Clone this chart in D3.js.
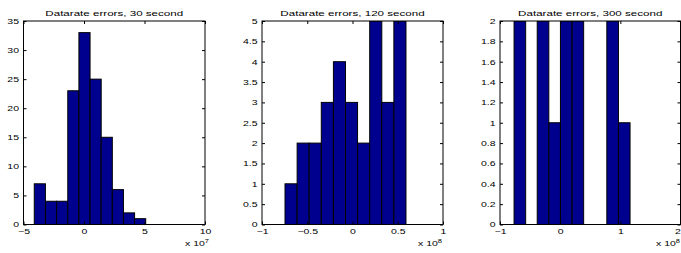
<!DOCTYPE html>
<html><head><meta charset="utf-8">
<script src="https://cdn.jsdelivr.net/npm/d3@7"></script>
<style>body{margin:0;background:#fff} svg{display:block;font-family:"Liberation Sans",Arial,sans-serif}</style>
</head><body><svg id="c" width="681" height="253"></svg>
<script>
// ---- data ----
const titles = ["Datarate errors, 30 second", "Datarate errors, 120 second", "Datarate errors, 300 second"];
const binCenters30 = [-3.65, -2.72, -1.80, -0.88, 0.04, 0.96, 1.88, 2.80, 3.72, 4.64];
const counts30 = [7, 4, 4, 23, 33, 25, 15, 6, 2, 1];
const binCenters120 = [-0.679, -0.545, -0.412, -0.278, -0.144, -0.011, 0.123, 0.257, 0.390, 0.524];
const counts120 = [1, 2, 2, 3, 4, 3, 2, 5, 3, 5];
const binCenters300 = [-0.670, -0.478, -0.285, -0.092, 0.101, 0.294, 0.487, 0.679, 0.872, 1.065];
const counts300 = [2, 0, 2, 1, 2, 2, 0, 0, 2, 1];
const binWidths = [0.921, 0.1337, 0.1928];
const xDomains = [[-5, 10], [-1, 1], [-1, 2]];
const xTicks30 = [-5, 0, 5, 10];
const xTicks120 = [-1, -0.5, 0, 0.5, 1];
const xTicks300 = [-1, 0, 1, 2];
const yDomains = [[0, 35], [0, 5], [0, 2]];
const yTicks30 = [0, 5, 10, 15, 20, 25, 30, 35];
const yTicks120 = [0, 0.5, 1, 1.5, 2, 2.5, 3, 3.5, 4, 4.5, 5];
const yTicks300 = [0, 0.2, 0.4, 0.6, 0.8, 1, 1.2, 1.4, 1.6, 1.8, 2];
const exponents = ["7", "8", "8"];

// ---- layout ----
const layout = [
  {left: 23.5, right: 205, expoX: 209},
  {left: 262, right: 443, expoX: 442},
  {left: 500, right: 680.5, expoX: 680}
];
const plotTop = 21, plotBottom = 224.5;
const barFill = "#00008F";
const SX = 1.5;
const W = 681;

const centers = [binCenters30, binCenters120, binCenters300];
const counts = [counts30, counts120, counts300];
const xTicks = [xTicks30, xTicks120, xTicks300];
const yTicks = [yTicks30, yTicks120, yTicks300];

const fmt = d => String(+d.toFixed(2)).replace("-", "\u2212");
const svg = d3.select("#c");

layout.forEach((L, i) => {
  const x = d3.scaleLinear().domain(xDomains[i]).range([L.left, L.right]);
  const y = d3.scaleLinear().domain(yDomains[i]).range([plotBottom, plotTop]);
  const g = svg.append("g");
  const cid = "clip" + i;
  svg.append("clipPath").attr("id", cid).append("rect")
    .attr("x", L.left).attr("y", plotTop).attr("width", L.right - L.left).attr("height", plotBottom - plotTop);

  const w = binWidths[i];
  const data = centers[i].map((c, k) => ({c, v: counts[i][k]}));
  g.append("g").attr("clip-path", `url(#${cid})`).selectAll("rect").data(data).join("rect")
    .attr("x", d => x(d.c - w / 2))
    .attr("width", d => x(d.c + w / 2) - x(d.c - w / 2))
    .attr("y", d => y(d.v))
    .attr("height", d => y(0) - y(d.v))
    .attr("fill", barFill).attr("stroke", "#000").attr("stroke-width", 1);

  const ax = g.append("g").attr("transform", `translate(0,${plotBottom})`)
    .call(d3.axisBottom(x).tickValues(xTicks[i]).tickFormat(fmt).tickSizeInner(-3).tickSizeOuter(0));
  ax.selectAll("text").attr("y", 0).attr("dy", null)
    .attr("transform", `translate(0,9) scale(${SX},1)`);
  const ay = g.append("g").attr("transform", `translate(${L.left},0)`)
    .call(d3.axisLeft(y).tickValues(yTicks[i]).tickFormat(fmt).tickSizeInner(-3).tickSizeOuter(0));
  ay.selectAll("text").attr("x", 0).attr("dy", "0.35em")
    .attr("transform", `translate(-4.5,0) scale(${SX},1)`);
  g.append("g").attr("transform", `translate(0,${plotTop})`)
    .call(d3.axisTop(x).tickValues(xTicks[i]).tickFormat("").tickSizeInner(-3).tickSizeOuter(0));
  g.append("g").attr("transform", `translate(${L.right},0)`)
    .call(d3.axisRight(y).tickValues(yTicks[i]).tickFormat("").tickSizeInner(-3).tickSizeOuter(0));
  g.selectAll(".domain").remove();
  g.selectAll(".tick line").attr("stroke", "#000");
  g.selectAll(".tick text").attr("font-size", 7).attr("fill", "#000").attr("font-family", "Liberation Sans, Arial, sans-serif");

  // keep x tick labels inside the page
  ax.selectAll(".tick").each(function(d) {
    const node = d3.select(this).select("text").node();
    const bb = node.getBoundingClientRect();
    if (bb.right > W) {
      const shift = (bb.right - W) / SX;
      d3.select(node).attr("x", -shift);
    }
  });

  g.append("rect").attr("x", L.left).attr("y", plotTop).attr("width", L.right - L.left).attr("height", plotBottom - plotTop)
    .attr("fill", "none").attr("stroke", "#000").attr("stroke-width", 1);

  g.append("text").attr("transform", `translate(${(L.left + L.right) / 2},16) scale(1.45,1)`)
    .attr("text-anchor", "middle").attr("font-size", 8).attr("fill", "#000").text(titles[i]);

  const t = g.append("text").attr("transform", `translate(${L.expoX},245.5) scale(${SX},1)`)
    .attr("text-anchor", "end").attr("font-size", 7).attr("fill", "#000");
  t.append("tspan").text("x 10");
  t.append("tspan").attr("font-size", 5).attr("dy", -3).text(exponents[i]);
});
</script></body></html>
